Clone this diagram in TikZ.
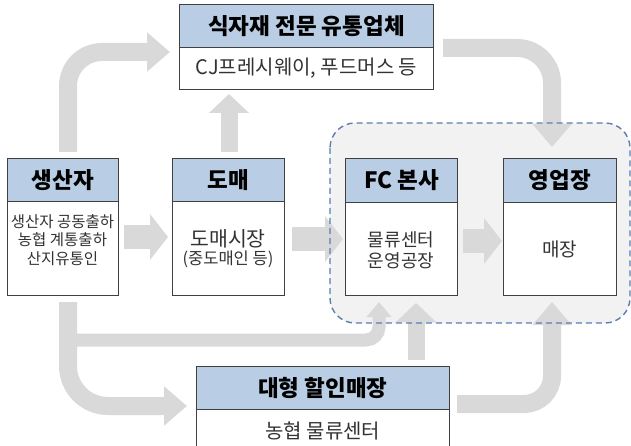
\documentclass[tikz,border=0pt]{standalone}
\usepackage{fontspec}
\setmainfont{Noto Sans CJK KR}
\usetikzlibrary{arrows.meta}
\definecolor{arrgray}{HTML}{D9D9D9}
\definecolor{hdrblue}{HTML}{B9CDE5}
\definecolor{bggray}{HTML}{F2F2F2}
\definecolor{dashblue}{HTML}{5B7DB0}
\definecolor{boxline}{HTML}{404040}
\definecolor{bodytext}{HTML}{333333}
\begin{document}
\begin{tikzpicture}[x=1pt,y=-1pt,
  hdr/.style={draw=boxline, line width=0.9pt, fill=hdrblue, anchor=north west, inner sep=0pt,
    font=\fontsize{22.5}{26}\selectfont\bfseries, text=black},
  bodybox/.style={draw=boxline, line width=0.9pt, fill=white, anchor=north west, inner sep=0pt,
    text=bodytext, align=center},
  bodytxt/.style={inner sep=0pt, text=bodytext, align=center},
  harr/.style={draw=arrgray, line width=23pt, -{Triangle[length=18pt,width=45pt]}},
  varr/.style={draw=arrgray, line width=17pt, -{Triangle[length=19pt,width=39pt]}},
  barr/.style={draw=arrgray, line width=18pt, -{Triangle[length=23pt,width=38pt]}},
  sarr/.style={draw=arrgray, line width=13pt, -{Triangle[length=15pt,width=24pt]}}
]
\useasboundingbox (0,0) rectangle (631,446);
\clip (0,0) rectangle (631,446);
% background region
\fill[bggray, rounded corners=25pt] (330,123) rectangle (630,323);

% coordinates for connectors
\coordinate (a1s) at (68,152);  \coordinate (a1e) at (170,52);
\coordinate (a2s) at (229,152); \coordinate (a2e) at (229,94);
\coordinate (a3s) at (443,48);  \coordinate (a3e) at (552,147);
\coordinate (a4s) at (124,237); \coordinate (a4e) at (168,237);
\coordinate (a5s) at (292,239); \coordinate (a5e) at (343,239);
\coordinate (a6s) at (463,241); \coordinate (a6e) at (502,241);
\coordinate (a7s) at (68,302);  \coordinate (a7e) at (187,406);
\coordinate (a8s) at (68,340);  \coordinate (a8e) at (379,302);
\coordinate (a9s) at (416,360); \coordinate (a9e) at (416,303);
\coordinate (a10s) at (457,404); \coordinate (a10e) at (552,302);

% arrows
\draw[barr, rounded corners=34pt] (a1s) |- (a1e);
\draw[varr] (a2s) -- (a2e);
\draw[barr, rounded corners=35pt] (a3s) -| (a3e);
\draw[harr] (a4s) -- (a4e);
\draw[harr] (a5s) -- (a5e);
\draw[harr] (a6s) -- (a6e);
\draw[sarr, rounded corners=13pt] (a8s) -| (a8e);
\draw[barr, rounded corners=40pt] (a7s) |- (a7e);
\draw[varr] (a9s) -- (a9e);
\draw[barr, rounded corners=28pt] (a10s) -| (a10e);

% dashed border
\draw[dashblue, line width=1.4pt, dash pattern=on 6pt off 4pt, rounded corners=25pt] (330,123) rectangle (630,323);

% top box
\node[hdr, minimum width=254pt, minimum height=43pt] (th) at (179,4) {식자재 전문 유통업체};
\node[bodybox, minimum width=254pt, minimum height=42pt, font=\fontsize{20}{22}\selectfont] (tb) at (179,47) {CJ프레시웨이, 푸드머스 등};

% producer
\node[hdr, minimum width=111pt, minimum height=43pt] (ph) at (7,158) {생산자};
\node[bodybox, minimum width=111pt, minimum height=94pt] (pb) at (7,201) {};
\node[bodytxt, font=\fontsize{15.5}{18.5}\selectfont] (pt) at (62.5,240) {생산자 공동출하\\농협 계통출하\\산지유통인};

% wholesale
\node[hdr, minimum width=112pt, minimum height=43pt] (dh) at (172,158) {도매};
\node[bodybox, minimum width=112pt, minimum height=94pt] (db) at (172,201) {};
\node[bodytxt, font=\fontsize{20.5}{22}\selectfont] (dt1) at (228,239) {도매시장};
\node[bodytxt, font=\fontsize{16.5}{18}\selectfont] (dt2) at (228,259) {(중도매인 등)};

% FC
\node[hdr, minimum width=112pt, minimum height=44pt] (fh) at (345,158) {FC 본사};
\node[bodybox, minimum width=112pt, minimum height=93pt] (fb) at (345,202) {};
\node[bodytxt, font=\fontsize{18}{20.5}\selectfont] (ft) at (401,250) {물류센터\\운영공장};

% store
\node[hdr, minimum width=113pt, minimum height=44pt] (yh) at (503,158) {영업장};
\node[bodybox, minimum width=113pt, minimum height=93pt, font=\fontsize{19}{22}\selectfont] (yb) at (503,202) {매장};

% bottom
\node[hdr, minimum width=253pt, minimum height=43pt] (bh) at (196,366) {대형 할인매장};
\node[bodybox, minimum width=253pt, minimum height=43pt, font=\fontsize{20}{22}\selectfont] (bb) at (196,409) {농협 물류센터};
\end{tikzpicture}
\end{document}
